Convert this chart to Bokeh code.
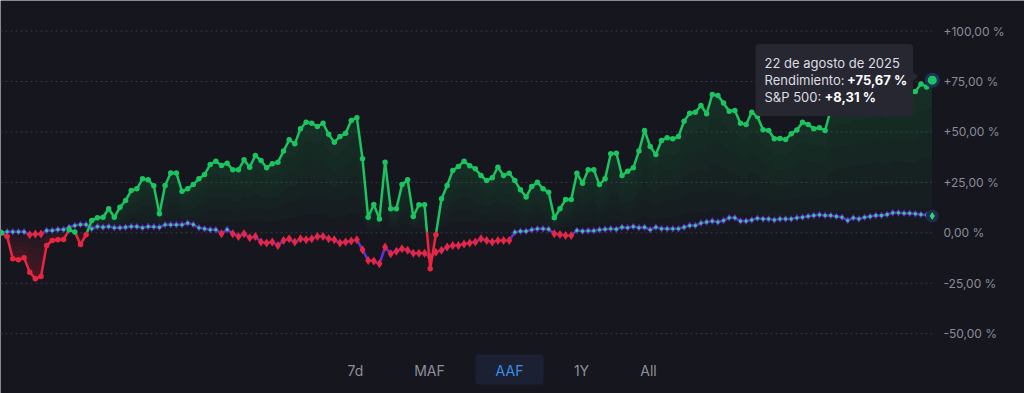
import numpy as np
from bokeh.plotting import figure
from bokeh.models import Range1d, BoxAnnotation, Label, PolyAnnotation
from bokeh.core.properties import value
from bokeh.embed import file_html
from bokeh.resources import INLINE

# ---------------- data ----------------
rendimiento = [
    0.0, -1.8, -12.9, -13.4, -12.4, -19.5, -22.8, -21.7, -6.3, -3.8,
    -3.5, -3.3, 1.5, 0.4, -5.8, -1.0, 6.1, 7.4, 7.7, 11.9,
    7.7, 12.7, 16.0, 21.0, 21.8, 26.8, 26.3, 23.3, 9.4, 23.4,
    29.6, 29.6, 20.6, 21.8, 23.9, 26.8, 28.9, 33.9, 35.5, 33.4,
    34.5, 31.2, 31.2, 36.2, 32.5, 38.3, 35.8, 32.2, 34.2, 35.0,
    40.5, 46.1, 44.1, 51.6, 54.8, 54.3, 52.7, 54.3, 48.8, 44.9,
    47.7, 49.4, 55.7, 57.0, 36.7, 7.7, 14.0, 6.9, 35.0, 11.9,
    11.9, 23.9, 26.3, 8.1, 13.9, 13.9, -17.8, -1.0, 16.9, 23.5,
    30.9, 32.9, 35.5, 33.2, 31.7, 28.4, 25.9, 27.3, 32.5, 28.4,
    29.5, 25.9, 21.3, 17.7, 23.0, 25.1, 21.8, 20.1, 7.4, 11.9,
    16.5, 16.5, 29.5, 24.6, 31.2, 31.2, 23.9, 26.8, 39.2, 39.5,
    28.4, 30.5, 32.2, 40.5, 50.7, 42.8, 38.8, 45.8, 47.1, 46.6,
    47.7, 55.3, 59.3, 59.8, 63.1, 59.0, 68.6, 68.1, 64.3, 60.3,
    60.6, 54.3, 53.7, 59.8, 57.7, 51.1, 50.7, 46.6, 46.8, 46.3,
    49.1, 51.0, 54.8, 53.7, 51.6, 52.1, 50.7, 61.0, 63.5, 65.0,
    64.2, 66.8, 66.0, 68.5, 67.2, 70.1, 69.0, 67.5, 69.8, 71.5,
    70.2, 68.5, 70.1, 73.8, 72.3, 75.67,
]
sp500 = [
    0.0, 0.5, 0.5, 0.5, 0.5, -1.0, -0.6, -0.6, 1.1, 1.1,
    1.6, 1.6, 2.8, 3.6, 4.1, 4.1, 2.0, 3.1, 2.8, 3.1,
    2.5, 2.5, 2.8, 3.1, 3.1, 2.5, 3.1, 3.0, 2.7, 4.0,
    4.0, 4.0, 4.0, 4.8, 4.1, 2.5, 2.0, 1.5, 1.5, -0.5,
    1.6, -0.5, -1.8, -0.5, -2.5, -1.8, -4.6, -5.1, -4.6, -6.3,
    -3.8, -3.0, -4.6, -3.0, -3.5, -3.0, -1.8, -1.8, -3.0, -3.5,
    -5.1, -4.6, -4.1, -3.5, -8.4, -13.7, -14.0, -15.4, -7.1, -10.4,
    -9.1, -7.9, -8.6, -10.1, -10.1, -10.1, -12.1, -9.6, -8.6, -7.1,
    -6.3, -6.3, -5.5, -5.1, -4.6, -3.0, -3.8, -4.6, -3.8, -3.8,
    -3.8, 0.3, 0.8, 0.8, 1.5, 2.0, 2.0, 1.8, -0.5, -0.8,
    -1.3, -1.3, 1.2, 0.8, 1.0, 1.0, 1.5, 1.8, 2.0, 1.8,
    2.8, 2.5, 3.1, 2.5, 2.8, 1.5, 2.8, 2.0, 2.0, 2.0,
    2.0, 2.8, 3.6, 3.6, 4.8, 5.3, 5.8, 5.3, 6.1, 7.4,
    7.4, 5.8, 5.8, 6.4, 7.2, 6.9, 6.9, 6.4, 6.9, 6.9,
    6.9, 7.4, 7.7, 8.2, 8.6, 8.9, 8.6, 8.6, 8.1, 7.7,
    6.1, 7.4, 6.9, 7.7, 8.1, 8.6, 8.6, 9.1, 9.9, 9.9,
    9.7, 9.7, 9.4, 9.1, 8.8, 8.31,
]
ytick_vals = [-50, -25, 0, 25, 50, 75, 100]
ytick_labels = ["-50,00 %", "-25,00 %", "0,00 %", "+25,00 %", "+50,00 %", "+75,00 %", "+100,00 %"]
range_buttons = ["7d", "MAF", "AAF", "1Y", "All"]
active_button = "AAF"
tooltip_date = "22 de agosto de 2025"
tooltip_labels = ["Rendimiento:", "S&P 500:"]
tooltip_values = ["+75,67 %", "+8,31 %"]

# ---------------- layout / style ----------------
W, H = 1024, 393
BG = "#16161f"
GREEN = "#1cc45f"
RED = "#e8263f"
PURPLE = "#6232d6"
SPX_DOT = "#2fd27a"
GRID = "#353845"
LABEL = "#8b8c97"
FONT = "Inter"

# reference pixel geometry (screenshot coordinates)
PX0, PDX = 1.0, 5.641        # x of first point, px per point
PY0, PDY = 232.3, 2.017      # y of 0 %, px per 1 %


def dx(px):
    return (px - PX0) / PDX


def dy(py):
    return (PY0 - py) / PDY


N = len(rendimiento)
x = np.arange(N, dtype=float)
r = np.array(rendimiento, dtype=float)
s = np.array(sp500, dtype=float)

p = figure(width=W, height=H,
           x_range=Range1d(dx(0), dx(W)),
           y_range=Range1d(dy(H), dy(0)),
           x_axis_location=None, y_axis_location=None,
           toolbar_location=None, output_backend="svg",
           min_border=0,
           background_fill_color=BG, border_fill_color=BG,
           outline_line_color=None)
p.grid.visible = False
p.outline_line_alpha = 0

# dotted gridlines up to the last point
p.segment(x0=[dx(0)] * len(ytick_vals), x1=[x[-1]] * len(ytick_vals),
          y0=ytick_vals, y1=ytick_vals, line_color=GRID, line_width=1,
          line_dash="2 3")
# y tick labels on the right
p.text(x=[dx(943)] * len(ytick_vals), y=ytick_vals, text=ytick_labels,
       text_font=value(FONT), text_font_size="12px", text_color=LABEL,
       text_baseline="middle", text_align="left")

# ---- split the portfolio line at the zero crossings ----
fx, fy = [x[0]], [r[0]]
segs = {"g": [[], [], [], []], "r": [[], [], [], []]}


def add_seg(key, x0, y0, x1, y1):
    segs[key][0].append(x0); segs[key][1].append(y0)
    segs[key][2].append(x1); segs[key][3].append(y1)


for i in range(N - 1):
    a, b = r[i], r[i + 1]
    if (a >= 0) == (b >= 0):
        add_seg("g" if a >= 0 else "r", x[i], a, x[i + 1], b)
    else:
        xc = x[i] + a / (a - b)
        add_seg("g" if a >= 0 else "r", x[i], a, xc, 0.0)
        add_seg("g" if b >= 0 else "r", xc, 0.0, x[i + 1], b)
        fx.append(xc); fy.append(0.0)
    fx.append(x[i + 1]); fy.append(b)
fx = np.array(fx); fy = np.array(fy)
pos = np.maximum(fy, 0)
neg = np.minimum(fy, 0)

# gradient-like area fills (more opaque near the line)
LAYERS = 6
for k in range(LAYERS):
    p.varea(x=fx, y1=pos * k / LAYERS, y2=pos, fill_color=GREEN, fill_alpha=0.022)
    p.varea(x=fx, y1=neg, y2=neg * k / LAYERS, fill_color=RED, fill_alpha=0.045)

# ---- S&P 500 ----
p.line(x, s, line_color=PURPLE, line_width=2.5)
sp_pos = s >= 0
p.scatter(x[sp_pos], s[sp_pos], marker="diamond", size=7.5, fill_color=PURPLE,
          line_color=None)
p.scatter(x[sp_pos], s[sp_pos], marker="circle", size=3.2, fill_color=SPX_DOT,
          line_color=None)
p.scatter(x[~sp_pos], s[~sp_pos], marker="diamond", size=9, fill_color=RED,
          line_color=None)

# ---- portfolio ----
p.segment(x0=segs["g"][0], y0=segs["g"][1], x1=segs["g"][2], y1=segs["g"][3],
          line_color=GREEN, line_width=2.5, line_cap="round")
p.segment(x0=segs["r"][0], y0=segs["r"][1], x1=segs["r"][2], y1=segs["r"][3],
          line_color=RED, line_width=2.5, line_cap="round")
pcol = np.where(r >= 0, GREEN, RED)
p.scatter(x[:-1], r[:-1], marker="circle", size=5.5, fill_color=pcol[:-1], line_color=None)

# highlighted last points
p.scatter([x[-1]], [s[-1]], marker="circle", size=13, fill_color="#1d2c4a",
          line_color=None)
p.scatter([x[-1]], [s[-1]], marker="diamond", size=8, fill_color=SPX_DOT,
          line_color=None)
p.scatter([x[-1]], [r[-1]], marker="circle", size=15, fill_color="#1d3356",
          line_color=None)
p.scatter([x[-1]], [r[-1]], marker="circle", size=9, fill_color=GREEN,
          line_color=None)

# ---- tooltip ----
TT_BG = "#262731"
p.add_layout(BoxAnnotation(left=dx(755), right=dx(912.5), top=dy(43.5), bottom=dy(115.5),
                           fill_color=TT_BG, fill_alpha=1.0, line_color=None,
                           border_radius=4))
p.add_layout(PolyAnnotation(xs=[dx(912), dx(917.5), dx(912)],
                            ys=[dy(71), dy(76), dy(81)],
                            fill_color=TT_BG, fill_alpha=1.0, line_color=None))
p.add_layout(Label(x=dx(764), y=dy(62), text=tooltip_date, text_font=FONT,
                   text_font_size="13px", text_color="#dcdce2",
                   text_baseline="middle", text_align="left"))
for row, (lab, val, vx) in enumerate(zip(tooltip_labels, tooltip_values, [846.5, 824])):
    yy = dy(79.5 + row * 17)
    p.add_layout(Label(x=dx(764), y=yy, text=lab, text_font=FONT,
                       text_font_size="13px", text_color="#dcdce2",
                       text_baseline="middle", text_align="left"))
    p.add_layout(Label(x=dx(vx), y=yy, text=val, text_font=FONT,
                       text_font_size="13px", text_font_style="bold",
                       text_color="#ffffff", text_baseline="middle",
                       text_align="left"))

# ---- range buttons ----
btn_cx = [355, 429, 509, 581, 648]
for name, cx in zip(range_buttons, btn_cx):
    active = name == active_button
    if active:
        p.add_layout(BoxAnnotation(left=dx(475), right=dx(543), top=dy(354), bottom=dy(384),
                                   fill_color="#1b2132", fill_alpha=1.0,
                                   line_color=None, border_radius=4))
    p.add_layout(Label(x=dx(cx), y=dy(370), text=name, text_font=FONT,
                       text_font_size="14px",
                       text_color="#3a8ee8" if active else "#8e8f99",
                       text_baseline="middle", text_align="center"))

open("out.html", "w").write(file_html(p, INLINE))
